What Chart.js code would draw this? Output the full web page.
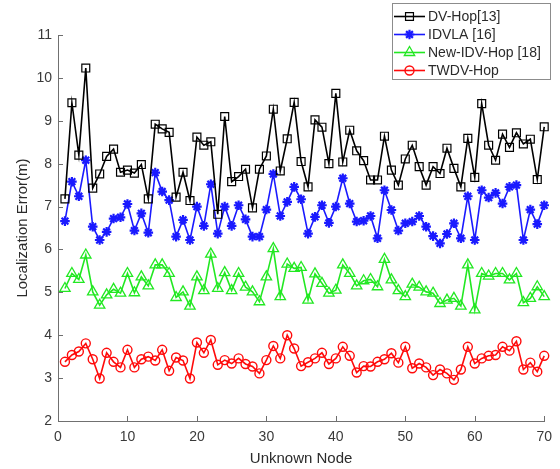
<!DOCTYPE html>
<html>
<head>
<meta charset="utf-8">
<script src="https://cdn.jsdelivr.net/npm/chart.js@4.4.1/dist/chart.umd.min.js"></script>
<style>
  html, body { margin: 0; padding: 0; background: #ffffff; }
  #wrap { width: 560px; height: 469px; position: relative; }
</style>
</head>
<body>
<div id="wrap"><canvas id="c" width="560" height="469"></canvas></div>
<script>
const nodes = [1,2,3,4,5,6,7,8,9,10,11,12,13,14,15,16,17,18,19,20,
  21,22,23,24,25,26,27,28,29,30,31,32,33,34,35,36,37,38,39,40,
  41,42,43,44,45,46,47,48,49,50,51,52,53,54,55,56,57,58,59,60,
  61,62,63,64,65,66,67,68,69,70];

const seriesNames = ['DV-Hop[13]', 'IDVLA [16]', 'New-IDV-Hop [18]', 'TWDV-Hop'];

const dvHop = [7.18,9.42,8.20,10.23,7.43,7.76,8.17,8.34,7.80,7.85,
  7.78,7.98,7.18,8.92,8.81,8.73,7.22,7.80,7.14,8.62,
  8.43,8.51,6.82,9.10,7.58,7.70,7.87,6.97,7.87,8.18,
  9.27,7.83,8.58,9.43,8.05,7.46,9.02,8.85,8.00,9.64,
  8.04,8.78,8.30,8.07,7.62,7.62,8.64,7.85,7.50,8.11,
  8.43,7.93,7.50,7.93,7.77,8.36,7.89,7.46,8.59,7.68,
  9.40,8.43,8.08,8.69,8.38,8.72,8.46,8.57,7.63,8.86];

const idvla = [6.66,7.58,7.24,8.08,6.53,6.22,6.41,6.72,6.75,7.06,
  6.44,6.84,6.39,7.79,7.35,7.15,6.30,6.69,6.22,7.00,
  6.55,7.52,6.37,7.00,6.55,7.03,6.70,6.30,6.30,6.93,
  7.76,6.78,7.11,7.46,7.17,6.37,6.76,7.03,6.62,7.00,
  7.66,7.07,6.65,6.67,6.78,6.26,7.38,6.92,6.44,6.61,
  6.65,6.78,6.53,6.31,6.14,6.36,6.61,6.26,7.24,6.22,
  7.38,7.21,7.32,7.07,7.46,7.50,6.22,6.93,6.59,7.03];

const newIdvHop = [5.09,5.44,5.30,5.87,5.01,4.70,4.94,5.07,4.98,5.44,
  4.99,5.36,5.15,5.64,5.64,5.44,4.88,5.01,4.68,5.36,
  5.04,5.89,5.09,5.46,5.04,5.44,5.12,5.01,4.78,5.36,
  6.02,4.90,5.66,5.56,5.58,4.82,5.43,5.21,4.98,5.05,
  5.64,5.44,5.15,5.27,5.30,5.13,5.77,5.29,5.04,4.90,
  5.19,5.12,5.01,4.98,4.74,4.82,4.86,4.68,5.64,4.59,
  5.44,5.38,5.44,5.44,5.29,5.44,4.76,4.86,5.13,4.90];

const twdvHop = [3.38,3.54,3.62,3.81,3.44,2.99,3.59,3.38,3.25,3.66,
  3.25,3.44,3.50,3.41,3.66,3.17,3.48,3.41,2.99,3.83,
  3.59,3.89,3.31,3.42,3.34,3.46,3.33,3.27,3.11,3.42,
  3.75,3.46,4.00,3.69,3.28,3.37,3.46,3.59,3.33,3.46,
  3.73,3.52,3.13,3.28,3.27,3.38,3.44,3.58,3.36,3.73,
  3.23,3.34,3.25,3.07,3.20,3.11,2.96,3.20,3.73,3.34,
  3.46,3.52,3.54,3.73,3.64,3.86,3.20,3.36,3.15,3.52];

const xTicks = [0,10,20,30,40,50,60,70];
const yTicks = [2,3,4,5,6,7,8,9,10,11];

const FONT = '"Liberation Sans", Arial, Helvetica, sans-serif';

function pts(vals) { return nodes.map((n, i) => ({ x: n, y: vals[i] })); }

function ds(label, vals, color, style, radius, bw) {
  return {
    label: label,
    data: pts(vals),
    borderColor: color,
    backgroundColor: color,
    borderWidth: 1.6,
    pointStyle: style,
    pointRadius: radius,
    pointBorderWidth: bw,
    pointBorderColor: color,
    pointBackgroundColor: 'rgba(0,0,0,0)',
    pointHoverRadius: radius,
    tension: 0,
    fill: false,
    clip: false
  };
}

const tickPlugin = {
  id: 'inwardTicks',
  afterDatasetsDraw(chart) {
    const ctx = chart.ctx;
    const xs = chart.scales.x, ys = chart.scales.y;
    const a = chart.chartArea;
    ctx.save();
    ctx.strokeStyle = '#6e6e6e';
    ctx.lineWidth = 1;
    ctx.beginPath();
    yTicks.forEach(v => {
      const y = Math.round(ys.getPixelForValue(v)) + 0.5;
      ctx.moveTo(a.left, y); ctx.lineTo(a.left + 5, y);
    });
    xTicks.forEach(v => {
      const x = Math.round(xs.getPixelForValue(v)) + 0.5;
      ctx.moveTo(x, a.bottom); ctx.lineTo(x, a.bottom - 5);
    });
    ctx.stroke();
    ctx.restore();
  }
};

const legendPlugin = {
  id: 'boxLegend',
  afterDatasetsDraw(chart) {
    const ctx = chart.ctx;
    const L = 392, T = 3, R = 551, B = 80;
    ctx.save();
    ctx.fillStyle = '#ffffff';
    ctx.fillRect(L, T, R - L, B - T);
    ctx.strokeStyle = '#8c8c8c';
    ctx.lineWidth = 1;
    ctx.strokeRect(L + 0.5, T + 0.5, R - L - 1, B - T - 1);
    const rows = [16.5, 34.5, 52.5, 70.5];
    chart.data.datasets.forEach((d, i) => {
      const y = rows[i];
      ctx.strokeStyle = d.borderColor;
      ctx.lineWidth = d.borderWidth;
      ctx.beginPath();
      ctx.moveTo(394, y); ctx.lineTo(425, y);
      ctx.stroke();
      const opts = {
        pointStyle: d.pointStyle,
        radius: d.pointRadius,
        borderWidth: d.pointBorderWidth,
        rotation: 0
      };
      ctx.fillStyle = 'rgba(0,0,0,0)';
      ctx.strokeStyle = d.pointBorderColor;
      ctx.lineWidth = d.pointBorderWidth;
      if (Chart.helpers && Chart.helpers.drawPoint) {
        Chart.helpers.drawPoint(ctx, opts, 409.5, y);
      }
      ctx.fillStyle = '#2b2b2b';
      ctx.font = '14px ' + FONT;
      ctx.textBaseline = 'middle';
      ctx.textAlign = 'left';
      ctx.fillText(d.label, 428, y + 0.5);
    });
    ctx.restore();
  }
};

new Chart(document.getElementById('c'), {
  type: 'line',
  data: {
    datasets: [
      ds(seriesNames[0], dvHop, '#000000', 'rect', 5.6, 1.2),
      ds(seriesNames[1], idvla, '#1a1aff', 'star', 4.8, 2.2),
      ds(seriesNames[2], newIdvHop, '#22e822', 'triangle', 6.0, 1.3),
      ds(seriesNames[3], twdvHop, '#ff0a0a', 'circle', 4.5, 1.4)
    ]
  },
  plugins: [tickPlugin, legendPlugin],
  options: {
    responsive: false,
    animation: false,
    devicePixelRatio: 1,
    layout: { padding: { left: 0, top: 35, right: 15, bottom: 0 } },
    plugins: {
      legend: { display: false },
      tooltip: { enabled: false },
      title: { display: false }
    },
    scales: {
      x: {
        type: 'linear',
        min: 0,
        max: 70,
        afterFit(scale) { scale.height = 48; },
        afterBuildTicks(scale) { scale.ticks = xTicks.map(v => ({ value: v })); },
        grid: { display: false, drawTicks: false },
        border: { display: true, color: '#707070', width: 1 },
        ticks: {
          padding: 8,
          color: '#3a3a3a',
          font: { family: FONT, size: 14 },
          maxRotation: 0,
          autoSkip: false
        },
        title: {
          display: true,
          text: 'Unknown Node',
          color: '#2b2b2b',
          font: { family: FONT, size: 15 },
          padding: { top: 0, bottom: 1 }
        }
      },
      y: {
        type: 'linear',
        min: 2,
        max: 11,
        afterFit(scale) { scale.width = 58; },
        afterBuildTicks(scale) { scale.ticks = yTicks.map(v => ({ value: v })); },
        grid: { display: false, drawTicks: false },
        border: { display: true, color: '#707070', width: 1 },
        ticks: {
          padding: 6,
          color: '#3a3a3a',
          font: { family: FONT, size: 14 }
        },
        title: {
          display: true,
          text: 'Localization Error(m)',
          color: '#2b2b2b',
          font: { family: FONT, size: 15 },
          padding: { top: 14, bottom: 0 }
        }
      }
    }
  }
});
</script>
</body>
</html>
